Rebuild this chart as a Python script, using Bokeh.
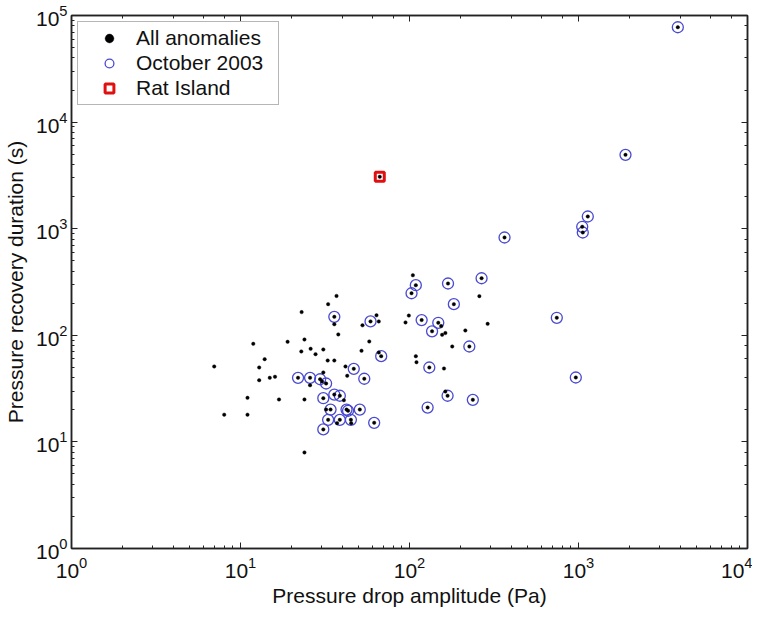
from bokeh.plotting import figure
from bokeh.models import LogAxis, Legend, LegendItem, ColumnDataSource, Range1d
from bokeh.embed import file_html
from bokeh.resources import INLINE

# October 2003 anomalies (circled)
oct_x = [35.9, 58.8, 68.0, 46.8, 54.0, 21.9, 25.8, 29.6, 32.1, 35.9, 38.7, 30.9,
         34.1, 42.4, 43.3, 50.8, 33.0, 38.7, 45.0, 61.8, 30.9,
         365, 109, 102.8, 169, 267, 183, 118, 148, 136, 744, 226, 131, 964,
         168, 237, 128, 3870, 1897, 1135, 1052, 1060]
oct_y = [149, 135, 63.7, 48.5, 39.1, 39.9, 39.9, 38.7, 35.3, 27.8, 27.1, 25.7,
         20.1, 20.1, 19.6, 20.1, 16.1, 16.1, 16.1, 15.1, 13.1,
         827, 295, 248, 306, 343, 196, 139, 131, 109, 146, 78.5, 49.9, 40.2,
         27.1, 24.8, 21.0, 77600, 4930, 1301, 1042, 921]

# Other anomalies (not October 2003)
other_x = [37.0, 33.0, 23.0, 35.9, 63.8, 65.8, 52.7, 94.7, 37.9, 11.9, 19.0, 23.9,
           57.8, 22.9, 26.0, 27.8, 30.9, 52.0, 65.8, 13.9, 32.8, 35.9, 6.99, 12.9,
           41.8, 30.9, 42.8, 12.9, 14.9, 16.0, 30.4, 25.8, 40.9, 11.0, 16.9, 23.9,
           32.1, 8.01, 11.0, 37.3, 45.2, 23.9, 104.7, 259, 99.1, 154, 156, 163,
           214, 290, 179, 109, 110, 160, 163, 66.7]
other_y = [234, 196, 165, 127, 154, 135, 124, 132, 102, 83.2, 86.9, 91.3,
           87.5, 70.5, 74.7, 66.5, 73.6, 71.6, 69.0, 59.7, 58.0, 58.0, 51.0, 49.9,
           51.0, 44.8, 41.7, 37.9, 39.9, 40.8, 36.9, 34.0, 24.6, 25.9, 25.0, 25.0,
           20.1, 18.0, 18.0, 15.0, 15.0, 7.96, 366, 233, 153, 122, 101, 105,
           111, 128, 78.5, 63.7, 55.9, 48.8, 29.7, 3069]

# Rat Island event
rat_x = [66.7]
rat_y = [3069]

all_x = oct_x + other_x
all_y = oct_y + other_y

legend_labels = ["All anomalies", "October 2003", "Rat Island"]
x_label = "Pressure drop amplitude (Pa)"
y_label = "Pressure recovery duration (s)"

FONT = "Liberation Sans"

p = figure(x_axis_type="log", y_axis_type="log",
           x_range=Range1d(1, 1e4), y_range=Range1d(1, 1e5),
           frame_width=676, frame_height=533,
           min_border_left=68, min_border_right=5, min_border_top=15, min_border_bottom=66,
           output_backend="svg", toolbar_location=None)
p.background_fill_color = "white"
p.border_fill_color = "white"
p.outline_line_color = "#222222"
p.outline_line_width = 1.5
p.xgrid.visible = False
p.ygrid.visible = False

src_all = ColumnDataSource(dict(x=all_x, y=all_y))
src_oct = ColumnDataSource(dict(x=oct_x, y=oct_y))
src_rat = ColumnDataSource(dict(x=rat_x, y=rat_y))

r_rat = p.scatter("x", "y", source=src_rat, marker="square", size=9,
                  line_color="#e01010", line_width=3, fill_color=None)
r_oct = p.scatter("x", "y", source=src_oct, marker="circle", size=11,
                  line_color="#4a4ad0", line_width=1.3, fill_color=None)
r_all = p.scatter("x", "y", source=src_all, marker="circle", size=3.5,
                  line_color="black", fill_color="black", line_width=0.4)


def style_axis(ax, labels=True):
    ax.axis_line_color = "#222222"
    ax.axis_line_width = 1.5
    ax.major_tick_in = 6
    ax.major_tick_out = 0
    ax.minor_tick_in = 3
    ax.minor_tick_out = 0
    ax.major_tick_line_color = "#222222"
    ax.minor_tick_line_color = "#222222"
    ax.major_label_text_font = FONT
    if labels:
        ax.major_label_text_color = "#111111"
        ax.major_label_text_font_size = "21px"
        ax.major_label_standoff = 4
    else:
        ax.major_label_text_color = None
        ax.major_label_text_font_size = "2px"
        ax.major_label_standoff = 0
    ax.axis_label_text_font = FONT
    ax.axis_label_text_font_size = "21px"
    ax.axis_label_text_font_style = "normal"
    ax.axis_label_text_color = "#111111"


for ax in p.xaxis:
    ax.axis_label = x_label
    style_axis(ax)
    ax.major_label_standoff = 8
    ax.axis_label_standoff = 3
for ax in p.yaxis:
    ax.axis_label = y_label
    style_axis(ax)
    ax.axis_label_standoff = 6

top = LogAxis()
style_axis(top, labels=False)
right = LogAxis()
style_axis(right, labels=False)
p.add_layout(top, "above")
p.add_layout(right, "right")

legend = Legend(items=[
    LegendItem(label=legend_labels[0], renderers=[r_all]),
    LegendItem(label=legend_labels[1], renderers=[r_oct]),
    LegendItem(label=legend_labels[2], renderers=[r_rat]),
], location="top_left")
legend.margin = 6
legend.padding = 4
legend.spacing = 1
legend.glyph_width = 54
legend.glyph_height = 22
legend.label_height = 22
legend.label_width = 138
legend.label_standoff = 0
legend.label_text_font = FONT
legend.label_text_font_size = "21px"
legend.label_text_color = "#111111"
legend.border_line_color = "#6e6e6e"
legend.border_line_width = 1.5
legend.background_fill_color = "white"
legend.background_fill_alpha = 1.0
p.add_layout(legend)

open("out.html", "w").write(file_html(p, INLINE))
